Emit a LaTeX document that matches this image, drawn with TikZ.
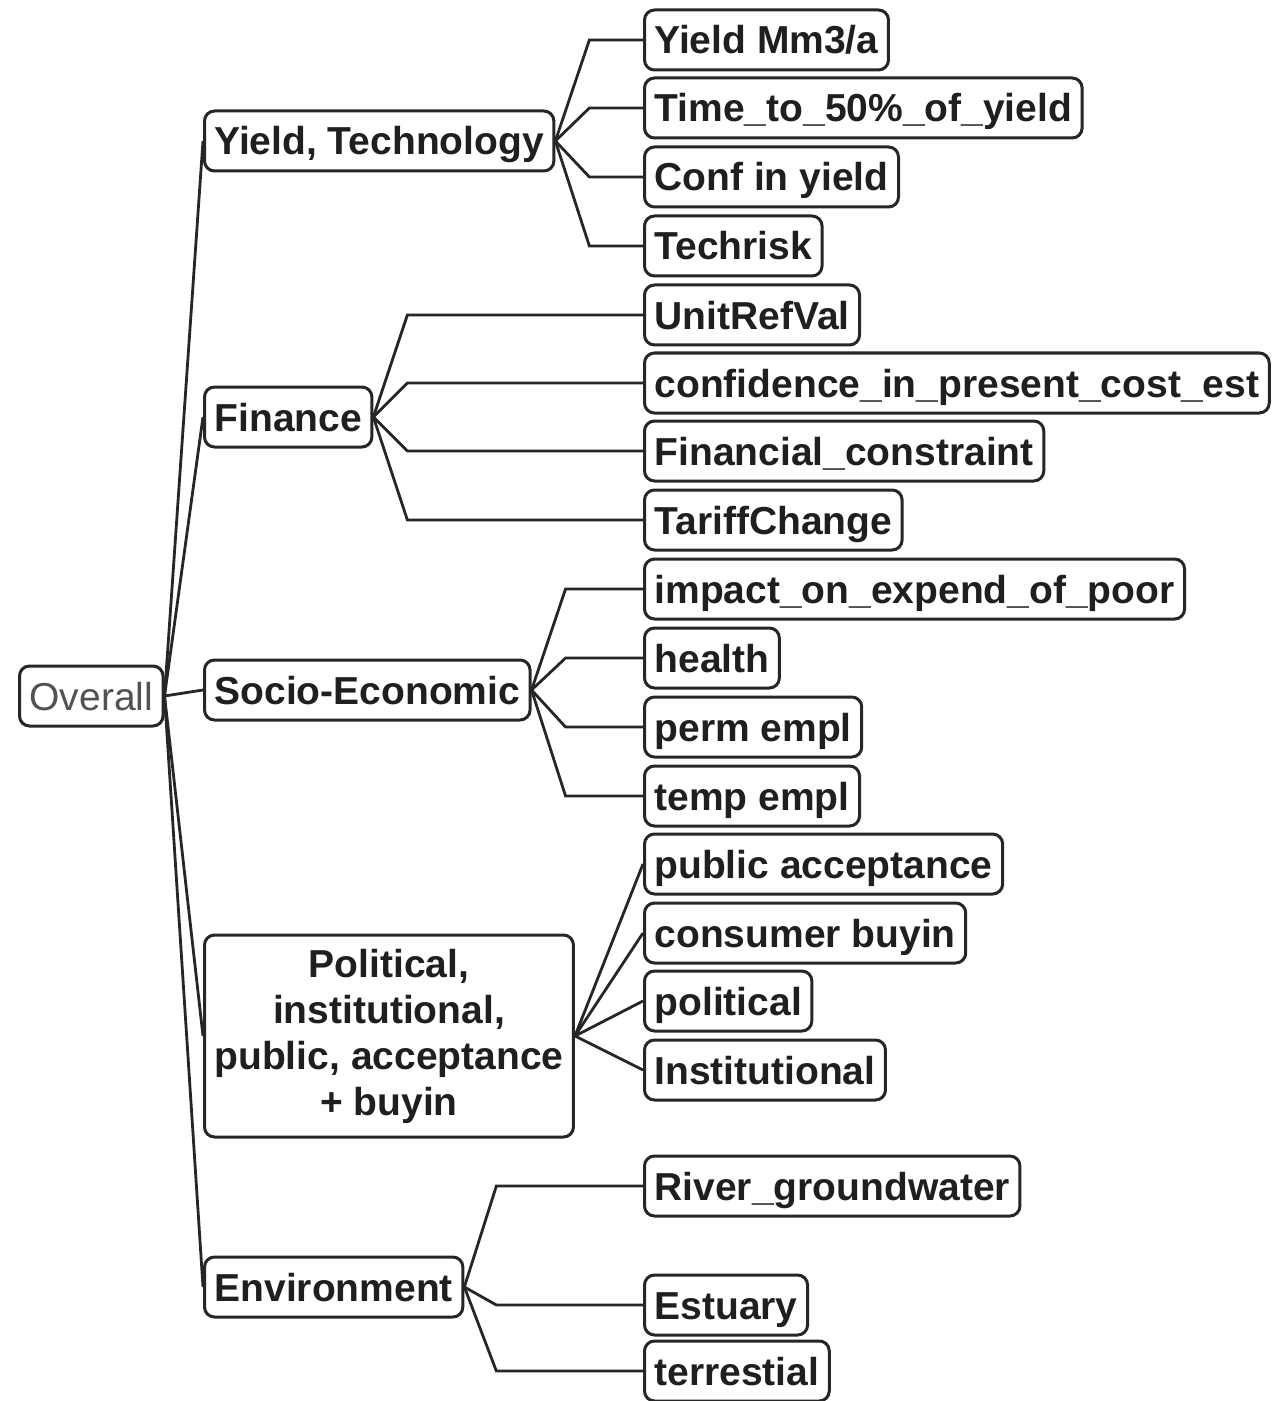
\documentclass[tikz,border=0pt]{standalone}
\usepackage{fontspec}
\setmainfont{Liberation Sans}
\usetikzlibrary{calc}
\tikzset{
  tree box/.style = {draw=black!85, line width=1.5pt, rounded corners=5pt,
    inner xsep=5pt, inner ysep=0pt, minimum height=30pt, anchor=west,
    font=\fontsize{19.5}{23}\selectfont\bfseries, text=black!88}
}
\tikzset{
  one line/.style = {tree box, text height=14pt, text depth=0pt},
  root box/.style = {one line, font=\fontsize{19.5}{23}\selectfont, text=black!68}
}
\tikzset{
  branch/.style = {draw=black!85, line width=1.4pt}
}

\begin{document}
\begin{tikzpicture}[x=0.5pt, y=-0.5pt]
  \useasboundingbox (0,0) rectangle (1278,1401);

  \node[root box] (ov) at (18,696) {Overall};

  \node[one line] (yt) at (203,141) {Yield, Technology};
  \node[one line] (fi) at (203,417) {Finance};
  \node[one line] (se) at (203,690) {Socio-Economic};
  \node[tree box, align=center, minimum height=101pt] (pi) at (203,1036)
    {Political,\\institutional,\\public, acceptance\\+ buyin};
  \node[one line] (en) at (203,1287) {Environment};

  \node[one line] (ym) at (643,40) {Yield Mm3/a};
  \node[one line] (tt) at (643,108) {Time\_to\_50\%\_of\_yield};
  \node[one line] (ci) at (643,177) {Conf in yield};
  \node[one line] (tr) at (643,246) {Techrisk};

  \node[one line] (ur) at (643,315) {UnitRefVal};
  \node[one line] (cp) at (643,383) {confidence\_in\_present\_cost\_est};
  \node[one line] (fc) at (643,451) {Financial\_constraint};
  \node[one line] (tc) at (643,520) {TariffChange};

  \node[one line] (ip) at (643,589) {impact\_on\_expend\_of\_poor};
  \node[one line] (he) at (643,658) {health};
  \node[one line] (pe) at (643,727) {perm empl};
  \node[one line] (te) at (643,796) {temp empl};

  \node[one line] (pa) at (643,864) {public acceptance};
  \node[one line] (cb) at (643,933) {consumer buyin};
  \node[one line] (po) at (643,1001) {political};
  \node[one line] (in) at (643,1070) {Institutional};

  \node[one line] (rg) at (643,1186) {River\_groundwater};
  \node[one line] (es) at (643,1305) {Estuary};
  \node[one line] (ts) at (643,1371) {terrestial};

  % root to groups
  \foreach \g in {yt,fi,se,pi,en}
    \draw[branch] (ov.east) -- (\g.west);

  % groups to leaves, with a bend column
  \coordinate (ytk) at ([xshift=17pt]yt.east);
  \coordinate (fik) at ([xshift=17pt]fi.east);
  \coordinate (sek) at ([xshift=17pt]se.east);
  \coordinate (enk) at ([xshift=16pt]en.east);
  \foreach \l in {ym,tt,ci,tr}
    \draw[branch] (yt.east) -- (ytk |- \l.west) -- (\l.west);
  \foreach \l in {ur,cp,fc,tc}
    \draw[branch] (fi.east) -- (fik |- \l.west) -- (\l.west);
  \foreach \l in {ip,he,pe,te}
    \draw[branch] (se.east) -- (sek |- \l.west) -- (\l.west);
  \foreach \l in {pa,cb,po,in}
    \draw[branch] (pi.east) -- (\l.west);
  \foreach \l in {rg,es,ts}
    \draw[branch] (en.east) -- (enk |- \l.west) -- (\l.west);
\end{tikzpicture}
\end{document}
